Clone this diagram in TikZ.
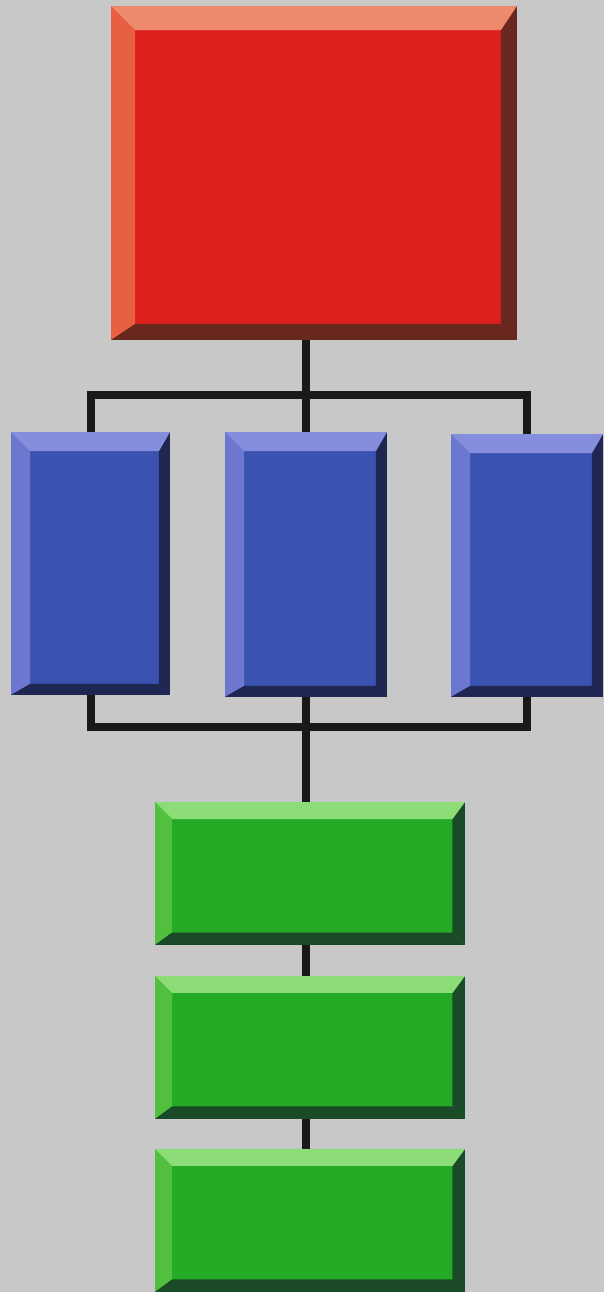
\documentclass[tikz,border=0pt]{standalone}
\usetikzlibrary{calc,positioning}
\definecolor{bggray}{RGB}{200,200,200}
\definecolor{redface}{RGB}{221,32,30}
\definecolor{redtop}{RGB}{238,138,108}
\definecolor{redleft}{RGB}{232,96,66}
\definecolor{reddark}{RGB}{104,40,30}
\definecolor{blueface}{RGB}{58,82,176}
\definecolor{bluetop}{RGB}{132,142,220}
\definecolor{blueleft}{RGB}{108,120,208}
\definecolor{bluedark}{RGB}{32,38,82}
\definecolor{greenface}{RGB}{36,170,36}
\definecolor{greentop}{RGB}{140,220,120}
\definecolor{greenleft}{RGB}{82,192,62}
\definecolor{greendark}{RGB}{26,74,40}
\tikzset{
    bevel in/.store in = \bvin,
    bevel out/.store in = \bvout,
    bevel in = 0.36cm,
    bevel out = 0.25cm,
    bevel box/.style n args = {4}{
        rectangle,
        inner sep = 0pt,
        outer sep = 0pt,
        fill = #1,
        path picture = {
            \coordinate (o1) at (path picture bounding box.north west);
            \coordinate (o2) at (path picture bounding box.north east);
            \coordinate (o3) at (path picture bounding box.south east);
            \coordinate (o4) at (path picture bounding box.south west);
            \coordinate (i1) at ($(o1)+(\bvin,-\bvin)$);
            \coordinate (i2) at ($(o2)+(-\bvout,-\bvin)$);
            \coordinate (i3) at ($(o3)+(-\bvout,\bvout)$);
            \coordinate (i4) at ($(o4)+(\bvin,\bvout)$);
            % lit edges left and top, shaded edges right and bottom
            \fill[#3] (o1) -- (o4) -- (i4) -- (i1) -- cycle;
            \fill[#4] (o2) -- (o3) -- (i3) -- (i2) -- cycle;
            \fill[#4] (o3) -- (o4) -- (i4) -- (i3) -- cycle;
            \fill[#2] (o1) -- (o2) -- (i2) -- (i1) -- cycle;
        },
    },
    head box/.style = {
        bevel in = 0.48cm,
        bevel out = 0.32cm,
        bevel box = {redface}{redtop}{redleft}{reddark},
        minimum width = 8.12cm,
        minimum height = 6.68cm,
    },
    unit box/.style = {
        bevel in = 0.38cm,
        bevel out = 0.22cm,
        bevel box = {blueface}{bluetop}{blueleft}{bluedark},
        minimum width = 3.18cm,
        minimum height = 5.26cm,
    },
    step box/.style = {
        bevel in = 0.34cm,
        bevel out = 0.25cm,
        bevel box = {greenface}{greentop}{greenleft}{greendark},
        minimum width = 6.2cm,
        minimum height = 2.86cm,
    },
    link/.style = {
        draw = black!90,
        line width = 0.16cm,
    },
}

\begin{document}
\begin{tikzpicture}[x=0.02cm, y=-0.02cm]
    \fill[bggray] (0,0) rectangle (604,1292);
    \useasboundingbox (0,0) rectangle (604,1292);

    \node[head box] (head) at (314,173) {};

    \node[unit box] (uleft) at (90.5,563.5) {};
    \node[unit box, minimum width=3.24cm, minimum height=5.3cm] (umid) at (306,564.5) {};
    \node[unit box, minimum width=3.04cm] (uright) at (527,565.5) {};

    \node[step box] (s1) at (310,873.5) {};
    \node[step box, below=0.62cm of s1] (s2) {};
    \node[step box, below=0.6cm of s2] (s3) {};

    \coordinate (topbar) at (306,395);
    \coordinate (lowbar) at (306,727);

    % fan out from the head
    \draw[link] (umid.north) -- (umid.north |- head.south);
    \draw[link] (uleft.north) |- (uright.north |- topbar) -- (uright.north);

    % gather back into the chain
    \draw[link] (uleft.south) |- (uright.south |- lowbar) -- (uright.south);
    \draw[link] (umid.south) -- (umid.south |- s1.north);
    \draw[link] (umid.south |- s1.south) -- (umid.south |- s2.north);
    \draw[link] (umid.south |- s2.south) -- (umid.south |- s3.north);
\end{tikzpicture}
\end{document}
